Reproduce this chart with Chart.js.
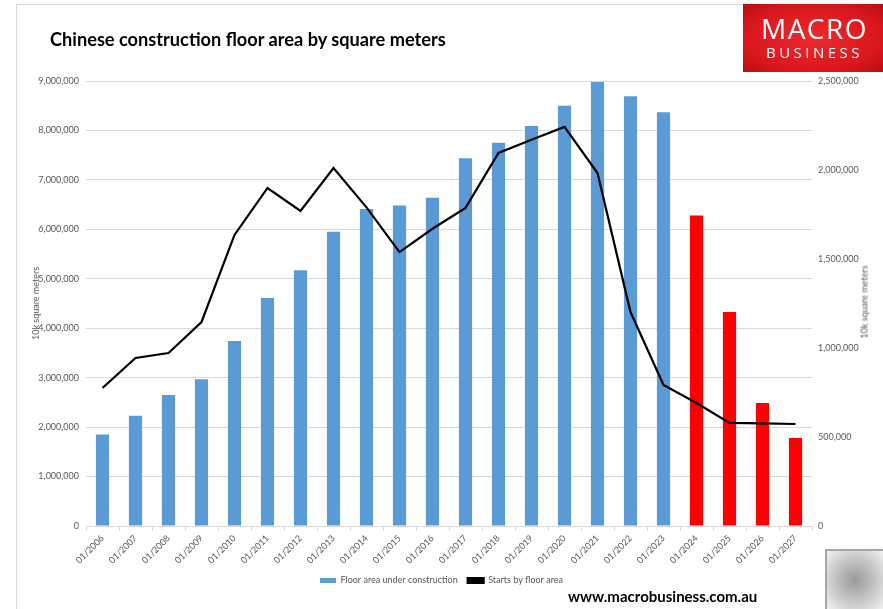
<!DOCTYPE html>
<html>
<head>
<meta charset="utf-8">
<script src="https://cdn.jsdelivr.net/npm/chart.js@4"></script>
<style>
    body { margin: 0; background: #fff; }
    #wrap { position: relative; width: 883px; height: 609px; overflow: hidden; font-family: Lato, sans-serif; }
    #frame { position: absolute; left: 16px; top: 4px; width: 900px; height: 700px; border-left: 1px solid #d9d9d9; border-top: 1px solid #d9d9d9; }
    #grafico { position: absolute; left: 0; top: 0; }
    #titulo { position: absolute; left: 50px; top: 28px; font-size: 18.2px; font-weight: bold; color: #000; white-space: nowrap; }
    #logo { position: absolute; left: 743px; top: 4px; width: 140px; height: 68px;
        background: radial-gradient(ellipse at center, #ee2a2e 0%, #d8161c 70%, #b50d14 100%); color: #fff; text-align: center; }
    #logo .l1 { position: absolute; left: 0; right: 0; top: 10px; font-family: "Open Sans", sans-serif; font-size: 28px; line-height: 28px; letter-spacing: 1.5px; padding-left: 3px; }
    #logo .l2 { position: absolute; left: 0; right: 0; top: 40px; font-family: "Open Sans", sans-serif; font-size: 15px; line-height: 16px; letter-spacing: 3.5px; padding-left: 3px; }
    #site { position: absolute; left: 568px; top: 587px; font-size: 15px; font-weight: bold; color: #000; white-space: nowrap; }
    #eixo_dir { position: absolute; left: 864px; top: 302px; transform: translate(-50%, -50%) rotate(-90deg); font-size: 9px; color: #595959; white-space: nowrap; }
    #lobo { position: absolute; left: 825px; top: 549px; width: 56px; height: 58px; border: 2px solid #a6a6a6;
        background: radial-gradient(ellipse at center, #9a9a9a 0%, #c8c8c8 55%, #f2f2f2 100%); }
</style>
</head>
<body>
<div id="wrap">
    <div id="frame"></div>
    <canvas id="grafico" width="883" height="609"></canvas>
    <div id="titulo">Chinese construction floor area by square meters</div>
    <div id="logo"><div class="l1">MACRO</div><div class="l2">BUSINESS</div></div>
    <div id="eixo_dir">10k square meters</div>
    <div id="site">www.macrobusiness.com.au</div>
    <div id="lobo"></div>
</div>
<script>
const anos = ['01/2006', '01/2007', '01/2008', '01/2009', '01/2010', '01/2011', '01/2012', '01/2013',
    '01/2014', '01/2015', '01/2016', '01/2017', '01/2018', '01/2019', '01/2020', '01/2021',
    '01/2022', '01/2023', '01/2024', '01/2025', '01/2026', '01/2027'];

const area_em_construcao = [1850000, 2230000, 2650000, 2970000, 3740000, 4610000, 5170000, 5950000,
    6410000, 6480000, 6640000, 7440000, 7750000, 8090000, 8500000, 8980000,
    8690000, 8370000, 6280000, 4330000, 2490000, 1780000];

const inicios_por_area = [775000, 944000, 972000, 1146000, 1635000, 1899000, 1770000, 2011000,
    1790000, 1539000, 1670000, 1787000, 2096000, 2170000, 2242000, 1983000,
    1202000, 792000, 691000, 579000, 577000, 573000];

// a partir de 01/2024 as barras sao projecoes (vermelhas)
const primeiro_projetado = 18;

const corTexto = '#595959';
const corGrade = '#d9d9d9';
const fonteEixo = { family: 'Lato', size: 9 };

const ctx = document.getElementById('grafico').getContext('2d');

new Chart(ctx, {
    type: 'bar',
    data: {
        labels: anos,
        datasets: [{
            label: 'Floor area under construction',
            data: area_em_construcao,
            backgroundColor: (c) => (c.dataIndex >= primeiro_projetado ? '#ff0000' : '#5b9bd5'),
            borderWidth: 0,
            barPercentage: 0.4,
            categoryPercentage: 1.0,
            yAxisID: 'y',
            order: 1,
        }, {
            type: 'line',
            label: 'Starts by floor area',
            data: inicios_por_area,
            borderColor: '#000000',
            backgroundColor: '#000000',
            borderWidth: 2.2,
            pointRadius: 0,
            tension: 0,
            yAxisID: 'y1',
            order: 0,
        }],
    },
    options: {
        responsive: false,
        animation: false,
        layout: { padding: { top: 81, left: 0, right: 0, bottom: 14 } },
        plugins: {
            title: { display: false },
            tooltip: { enabled: false },
            legend: {
                position: 'bottom',
                labels: {
                    boxWidth: 16,
                    boxHeight: 5,
                    padding: 10,
                    color: corTexto,
                    font: fonteEixo,
                    sort: (a, b) => a.datasetIndex - b.datasetIndex,
                },
            },
        },
        scales: {
            x: {
                grid: { drawOnChartArea: false, tickLength: 5, color: corGrade },
                border: { color: corGrade },
                ticks: { color: corTexto, font: fonteEixo, maxRotation: 45, minRotation: 45, padding: 2 },
                afterFit: (s) => { s.height = 40; },
            },
            y: {
                position: 'left',
                min: 0,
                max: 9000000,
                grid: { color: corGrade, drawTicks: false },
                border: { display: false },
                ticks: {
                    stepSize: 1000000,
                    padding: 7,
                    color: corTexto,
                    font: fonteEixo,
                    callback: (v) => v.toLocaleString('en-US'),
                },
                title: {
                    display: true,
                    text: '10k square meters',
                    color: corTexto,
                    font: fonteEixo,
                    padding: { top: 31, bottom: 0 },
                },
                afterFit: (s) => { s.width = 86; },
            },
            y1: {
                position: 'right',
                min: 0,
                max: 2500000,
                grid: { drawOnChartArea: false, drawTicks: false },
                border: { display: false },
                ticks: {
                    stepSize: 500000,
                    padding: 6,
                    color: corTexto,
                    font: fonteEixo,
                    callback: (v) => v.toLocaleString('en-US'),
                },
                afterFit: (s) => { s.width = 71; },
            },
        },
    },
});
</script>
</body>
</html>
